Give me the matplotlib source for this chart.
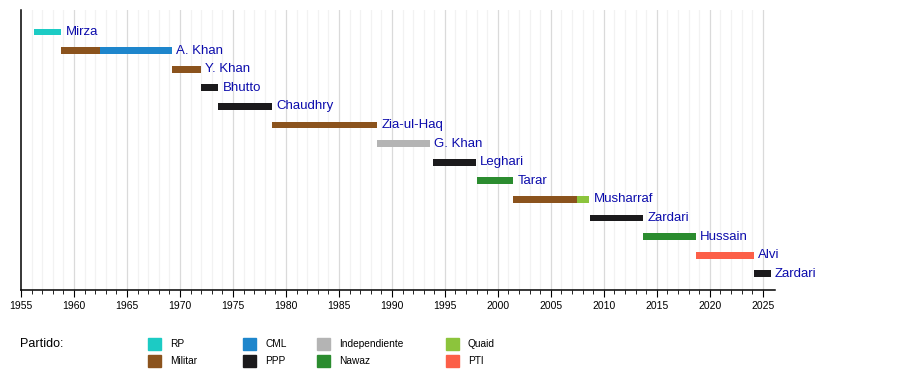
import matplotlib
matplotlib.use("Agg")
import matplotlib.pyplot as plt
from matplotlib.patches import Rectangle

plt.rcParams['font.family'] = ['Liberation Sans', 'DejaVu Sans']

# one row per president, each row may hold several party segments
names = ["Mirza", "A. Khan", "Y. Khan", "Bhutto", "Chaudhry", "Zia-ul-Haq", "G. Khan",
         "Leghari", "Tarar", "Musharraf", "Zardari", "Hussain", "Alvi", "Zardari"]
starts = [[1956.22], [1958.82, 1962.44], [1969.23], [1971.97], [1973.62], [1978.71], [1988.63],
          [1993.87], [1998.0], [2001.47, 2007.45], [2008.69], [2013.69], [2018.69], [2024.19]]
ends = [[1958.82], [1962.44, 1969.23], [1971.97], [1973.62], [1978.71], [1988.63], [1993.55],
        [1997.92], [2001.47], [2007.45, 2008.63], [2013.69], [2018.69], [2024.19], [2025.75]]
parties = [["RP"], ["Militar", "CML"], ["Militar"], ["PPP"], ["PPP"], ["Militar"], ["Independiente"],
           ["PPP"], ["Nawaz"], ["Militar", "Quaid"], ["PPP"], ["Nawaz"], ["PTI"], ["PPP"]]

party_names = ["RP", "Militar", "CML", "PPP", "Independiente", "Nawaz", "Quaid", "PTI"]
party_colors = ["#1ccbc4", "#8b531d", "#1e86cc", "#1b1a1c", "#b4b4b4", "#2b8c2f", "#8cc43c", "#fc5f48"]
color_of = dict(zip(party_names, party_colors))

fig = plt.figure(figsize=(9, 3.7), dpi=100)
ax = fig.add_axes([21 / 900, 1 - 290 / 370, (775 - 21) / 900, 280 / 370])
ax.set_xlim(1955, 2026.15)
ax.set_ylim(13.87, -1.18)

# yearly grid, darker every five years
for yr in range(1956, 2026):
    c = "#dadada" if yr % 5 == 0 else "#f2f2f2"
    ax.axvline(yr, color=c, lw=0.9, zorder=0)

for i, name in enumerate(names):
    for s, e, p in zip(starts[i], ends[i], parties[i]):
        ax.barh(i, e - s, left=s, height=0.37, color=color_of[p], zorder=2)
    ax.text(ends[i][-1] + 0.4, i, name, color="#0c0cac", fontsize=9.5,
            va="center", ha="left", zorder=3)

for side in ["top", "right"]:
    ax.spines[side].set_visible(False)
ax.spines["left"].set_linewidth(1.1)
ax.spines["bottom"].set_linewidth(1.1)
ax.set_yticks([])
ax.set_xticks(range(1955, 2026, 5))
ax.set_xticks(range(1955, 2026), minor=True)
ax.tick_params(axis="x", which="major", length=5, width=0.8, labelsize=7.5, pad=3)
ax.tick_params(axis="x", which="minor", length=3, width=0.6)

# legend
fig.text(20 / 900, 1 - 344 / 370, "Partido:", fontsize=9, va="center", ha="left")
cols_x = [148, 243, 317, 446]
rows_y = [344, 361]
for k, (pn, pc) in enumerate(zip(party_names, party_colors)):
    x = cols_x[k // 2]
    y = rows_y[k % 2]
    fig.patches.append(Rectangle((x / 900, 1 - (y + 6) / 370), 13 / 900, 12 / 370,
                                 transform=fig.transFigure, color=pc))
    fig.text((x + 22) / 900, 1 - y / 370, pn, fontsize=7.3, va="center", ha="left")

fig.savefig("out.png", dpi=100)
